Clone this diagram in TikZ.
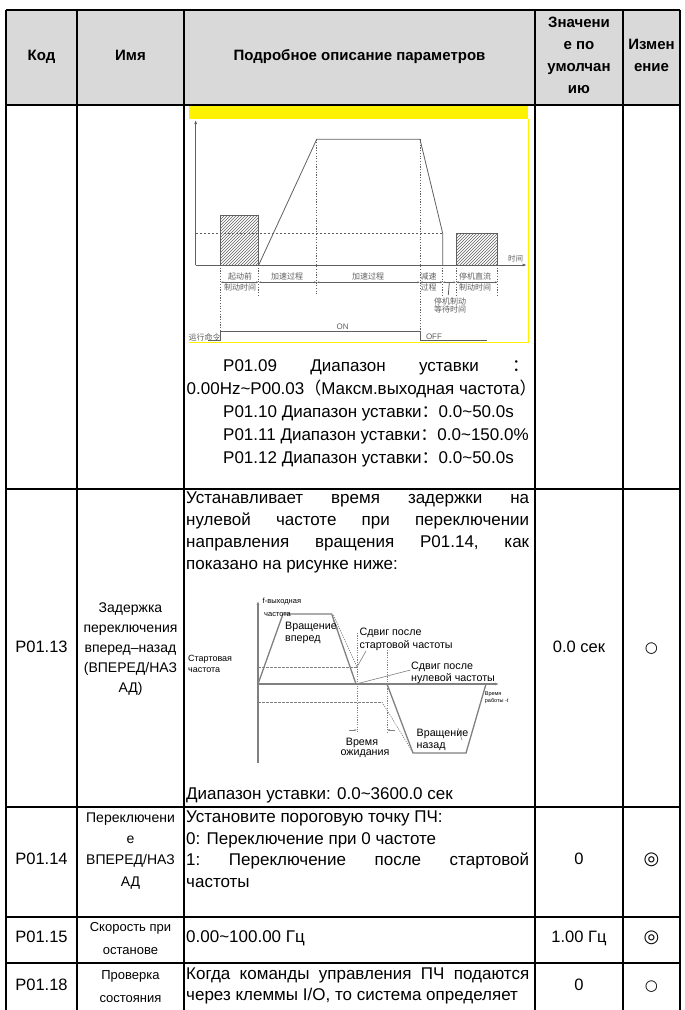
\documentclass[tikz,border=0pt]{standalone}
\usepackage{fontspec}
\setmainfont{Liberation Sans}
\newfontfamily\cjk{Noto Sans CJK SC}
\newfontfamily\dejavu{DejaVu Sans}
\usetikzlibrary{patterns,arrows.meta}
\newcommand\fz[1]{\fontsize{#1}{#1}\selectfont}
\definecolor{hdr}{HTML}{D9D9D9}
\definecolor{dg}{HTML}{606060}
\definecolor{lg}{HTML}{808080}
\tikzset{
  grid/.style={line width=1.7pt,black},
  hd/.style={inner sep=0,anchor=mid,font=\fz{15}\bfseries},
  body/.style={inner sep=0,anchor=mid west,font=\fz{17}},
  code/.style={inner sep=0,anchor=mid,font=\fz{16.5}},
  nm/.style={inner sep=0,anchor=mid,font=\fz{14}},
  sym/.style={inner sep=0,anchor=mid,font=\dejavu\fz{15}},
  cn/.style={inner sep=0,anchor=mid,font=\cjk\fz{8},text=dg},
  d1/.style={dg,line width=0.8pt},
  d1dot/.style={dg,line width=0.6pt,dash pattern=on 1.2pt off 1.5pt},
  d2/.style={lg,line width=1.3pt},
  d2dot/.style={lg,line width=0.7pt,dash pattern=on 1.2pt off 1.2pt},
  d2dash/.style={lg,line width=0.7pt,dash pattern=on 2.5pt off 1.5pt},
  lbl/.style={inner sep=0,anchor=mid west,font=\fz{10.7}},
}
\begin{document}
\begin{tikzpicture}[x=1pt,y=-1pt]
\useasboundingbox (0,0) rectangle (685,1010);
\fill[white] (0,0) rectangle (685,1010);
% header background
\fill[hdr] (6,10) rectangle (680,105);
% ---------- first diagram (yellow frame) ----------
\fill[yellow] (189,106) rectangle (528,119);
\draw[yellow,line width=1pt] (528,119) -- (528,342) -- (189,342);
% axes
\coordinate (o1) at (195.7,265);
\coordinate (ytop1) at (195.7,120);
\coordinate (xend1) at (526.7,265);
\draw[d1,-{Latex[length=4pt,width=3pt]}] (o1) -- (ytop1);
\draw[d1,-{Latex[length=4pt,width=3pt]}] (o1) -- (xend1);
% hatched rectangles
\draw[d1,pattern=north east lines,pattern color=dg] (220.7,215.3) rectangle (258.7,265);
\draw[d1,pattern=north east lines,pattern color=dg] (456,233.3) rectangle (497.7,265);
% speed profile
\coordinate (p1) at (258.7,265);
\coordinate (p2) at (316.7,139.3);
\coordinate (p3) at (420,139.3);
\coordinate (p4) at (442.7,233.3);
\coordinate (p5) at (442.7,265);
\draw[d1] (p1) -- (p2) -- (p3) -- (p4) -- (p5);
\draw[d1,dash pattern=on 2pt off 2pt] (195.7,233.3) -- (p4);
% dotted verticals
\draw[d1dot] (220.7,265) -- (220.7,331);
\draw[d1dot] (258.7,265) -- (258.7,295);
\draw[d1dot] (p2) -- (316.7,295);
\draw[d1dot] (p3) -- (420,341);
\draw[d1dot] (p5) -- (442.7,295);
\draw[d1dot] (456,265) -- (456,295);
\draw[d1dot] (497.7,265) -- (497.7,295);
% time line segments
\foreach \a/\b in {220.7/258.7,258.7/316.7,316.7/420,420/442.7,442.7/456,456/497.7}
  \draw[d1,{Latex[length=2.5pt,width=2pt]}-{Latex[length=2.5pt,width=2pt]}] (\a,282.3) -- (\b,282.3);
\node[cn] (l1a) at (240,277) {起动前};
\node[cn] (l1b) at (240,287.5) {制动时间};
\node[cn] (l2) at (287,277) {加速过程};
\node[cn] (l3) at (368,277) {加速过程};
\node[cn] (l4a) at (428.5,277) {减速};
\node[cn] (l4b) at (428.5,287.5) {过程};
\node[cn] (l5a) at (475,277) {停机直流};
\node[cn] (l5b) at (475,287.5) {制动时间};
\node[cn] (l6a) at (450,301.5) {停机制动};
\node[cn] (l6b) at (450,310) {等待时间};
\coordinate (ptr) at (449.3,283);
\draw[d1] (ptr) -- (448.3,295);
\node[cn,font=\cjk\fz{7.5}] (tm) at (515.5,259.3) {时间};
% run command
\node[cn] (run) at (204.5,337.5) {运行命令};
\draw[d1] (208.3,340.7) -- (220.7,340.7) -- (220.7,331) -- (420,331) -- (420,340.7) -- (486.7,340.7);
\node[inner sep=0,font=\fz{8},text=dg] (on) at (342.7,327) {ON};
\node[inner sep=0,font=\fz{8},text=dg] (off) at (434,337) {OFF};
% ---------- row 1 text ----------
\node[body] (t1) at (223,369) {\makebox[306pt][l]{P01.09\hfill Диапазон\hfill уставки\hfill {\cjk ：}}};
\node[body] (t2) at (186.5,392) {0.00Hz\textasciitilde P00.03{\cjk （}Максм.выходная частота{\cjk ）}};
\node[body] (t3) at (223,415) {P01.10 Диапазон уставки{\cjk ：}0.0\textasciitilde 50.0s};
\node[body] (t4) at (223,438) {P01.11 Диапазон уставки{\cjk ：}0.0\textasciitilde 150.0\%};
\node[body] (t5) at (223,461) {P01.12 Диапазон уставки{\cjk ：}0.0\textasciitilde 50.0s};
% ---------- row 2 (P01.13) ----------
\node[code] (c2) at (41.5,650) {P01.13};
\node[nm] (n2a) at (130.5,610) {Задержка};
\node[nm] (n2b) at (130.5,630) {переключения};
\node[nm] (n2c) at (130.5,650) {вперед–назад};
\node[nm] (n2d) at (130.5,670) {(ВПЕРЕД/НАЗ};
\node[nm] (n2e) at (130.5,690) {АД)};
\node[body] (d2a) at (186,501) {\makebox[343pt][l]{Устанавливает\hfill время\hfill задержки\hfill на}};
\node[body] (d2b) at (186,523) {\makebox[343pt][l]{нулевой\hfill частоте\hfill при\hfill переключении}};
\node[body] (d2c) at (186,545) {\makebox[343pt][l]{направления\hfill вращения\hfill P01.14,\hfill как}};
\node[body] (d2d) at (186,567) {показано на рисунке ниже:};
\node[body] (d2e) at (186,797) {Диапазон уставки: 0.0\textasciitilde 3600.0 сек};
\node[code] (v2) at (579,650) {0.0 сек};
\node[sym] (s2) at (651.5,650) {○};
% second diagram
\coordinate (o2) at (258,684);
\coordinate (ytop2) at (258,601);
\coordinate (ybot2) at (258,763);
\coordinate (xend2) at (499,684);
\draw[d2,-{Latex[length=4pt,width=3pt]}] (ybot2) -- (ytop2);
\draw[d2,-{Latex[length=4pt,width=3pt]}] (o2) -- (xend2);
\coordinate (f1) at (283,614);
\coordinate (f2) at (331.7,614);
\coordinate (f3) at (356,684);
\draw[d2] (o2) -- (f1) -- (f2) -- (f3);
\coordinate (r0) at (387,684);
\coordinate (r1) at (413,753);
\coordinate (r2) at (466,753);
\coordinate (r3) at (486,684);
\draw[d2] (r0) -- (r1) -- (r2) -- (r3);
\coordinate (sf) at (357,667);
\draw[d2dot] (333.5,615) -- (sf);
\draw[d2dash] (258,667) -- (sf);
\draw[d2dash] (258,702) -- (382,702);
\draw[d2dot] (382,702) -- (412,751);
\draw[d2dot] (357,633) -- (357,732);
\draw[d2dot] (387,650) -- (387,732);
\draw[lg,line width=0.6pt,-{Latex[length=2.5pt,width=2pt]}] (349,730) -- (357,730);
\draw[lg,line width=0.6pt,-{Latex[length=2.5pt,width=2pt]}] (395,730) -- (387,730);
\draw[lg,line width=0.6pt] (sf) -- (366,651);
\draw[lg,line width=0.6pt] (f3) -- (410.5,670);
\draw[lg,line width=0.6pt] (333,620) -- (338,629);
\draw[lg,line width=0.6pt] (458,728) -- (462,740);
\node[lbl,font=\fz{7.5}] (fy1) at (262.5,600.7) {f-выходная};
\node[lbl,font=\fz{7.5}] (fy2) at (264,613.5) {частота};
\node[lbl] (fw1) at (285,626.5) {Вращение};
\node[lbl] (fw2) at (285,639) {вперед};
\node[lbl] (ss1) at (359.5,633) {Сдвиг после};
\node[lbl] (ss2) at (359.5,646) {стартовой частоты};
\node[lbl] (sz1) at (411,667) {Сдвиг после};
\node[lbl] (sz2) at (411,679) {нулевой частоты};
\node[lbl,font=\fz{5.5}] (tt1) at (484.7,692.7) {Время};
\node[lbl,font=\fz{5.5}] (tt2) at (484.7,700) {работы -t};
\node[lbl,font=\fz{9}] (st1) at (188,659) {Стартовая};
\node[lbl,font=\fz{9}] (st2) at (188,670) {частота};
\node[lbl,anchor=mid] (wt1) at (362,743) {Время};
\node[lbl,anchor=mid] (wt2) at (365,753) {ожидания};
\node[lbl] (rv1) at (416.5,734) {Вращение};
\node[lbl] (rv2) at (416.5,745.5) {назад};
% ---------- row 3 (P01.14) ----------
\node[code] (c3) at (41.5,862) {P01.14};
\node[nm] (n3a) at (130.5,820) {Переключени};
\node[nm] (n3b) at (130.5,841) {е};
\node[nm] (n3c) at (130.5,862) {ВПЕРЕД/НАЗ};
\node[nm] (n3d) at (130.5,884) {АД};
\node[body] (d3a) at (186,820) {Установите пороговую точку ПЧ:};
\node[body] (d3b) at (186,841.5) {0: Переключение при 0 частоте};
\node[body] (d3c) at (186,863) {\makebox[343pt][l]{1:\hfill Переключение\hfill после\hfill стартовой}};
\node[body] (d3d) at (186,884.5) {частоты};
\node[code] (v3) at (579,862) {0};
\node[sym,font=\dejavu\fz{18}] (s3) at (651.5,862) {◎};
% ---------- row 4 (P01.15) ----------
\node[code] (c4) at (41.5,940) {P01.15};
\node[nm,font=\fz{13}] (n4a) at (130.5,929) {Скорость при};
\node[nm,font=\fz{13}] (n4b) at (130.5,952) {останове};
\node[body] (d4) at (186,940) {0.00\textasciitilde 100.00 Гц};
\node[code] (v4) at (579,940) {1.00 Гц};
\node[sym,font=\dejavu\fz{18}] (s4) at (651.5,940) {◎};
% ---------- row 5 (P01.18) ----------
\node[code] (c5) at (41.5,988) {P01.18};
\node[nm,font=\fz{13}] (n5a) at (130.5,977) {Проверка};
\node[nm,font=\fz{13}] (n5b) at (130.5,1000) {состояния};
\node[body] (d5a) at (186,976.5) {\makebox[343pt][l]{Когда\hfill команды\hfill управления\hfill ПЧ\hfill подаются}};
\node[body] (d5b) at (186,998) {через клеммы I/O, то система определяет};
\node[code] (v5) at (579,988) {0};
\node[sym] (s5) at (651.5,988) {○};
% ---------- table grid ----------
\foreach \x in {6,77,184,535,623,680}
  \draw[grid] (\x,10) -- (\x,1010);
\foreach \y in {10,105,489,807,917,963}
  \draw[grid] (6,\y) -- (680,\y);
% header text
\node[hd] (h1) at (41.5,57.5) {Код};
\node[hd] (h2) at (130.5,57.5) {Имя};
\node[hd] (h3) at (359.5,57.5) {Подробное описание параметров};
\node[hd] (h4a) at (579,24.5) {Значени};
\node[hd] (h4b) at (579,46.5) {е по};
\node[hd] (h4c) at (579,68.5) {умолчан};
\node[hd] (h4d) at (579,90.5) {ию};
\node[hd] (h5a) at (651.5,46.5) {Измен};
\node[hd] (h5b) at (651.5,68.5) {ение};
\end{tikzpicture}
\end{document}
